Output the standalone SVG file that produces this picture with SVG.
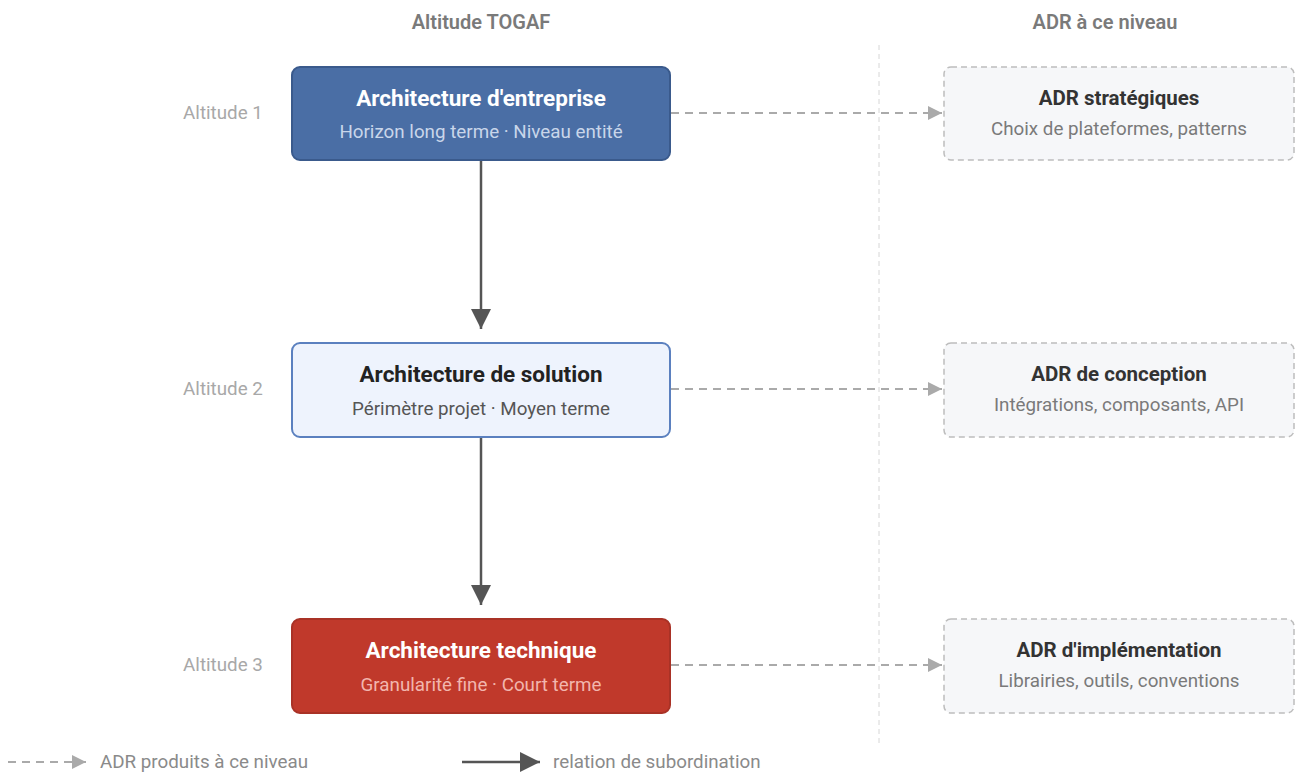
<svg xmlns="http://www.w3.org/2000/svg" width="1295" height="772" viewBox="0 0 1295 772">
<defs>
<style>
text{font-family:Roboto,"Liberation Sans",sans-serif;}
.hdr{font-size:20px;font-weight:600;fill:#7a7a7a;text-anchor:middle;}
.alt{font-size:18.8px;fill:#a8a8a8;text-anchor:middle;}
.t{font-size:22.5px;font-weight:700;text-anchor:middle;}
.s{font-size:18.8px;text-anchor:middle;}
.adr{fill:#f6f7f9;stroke:#bdbdbd;stroke-width:1.5;stroke-dasharray:6 4;}
.adrt{font-size:20.5px;font-weight:700;fill:#333;text-anchor:middle;}
.adrs{font-size:18.8px;fill:#7a7a7a;text-anchor:middle;}
.dash{stroke:#aaaaaa;stroke-width:2;stroke-dasharray:8 6;fill:none;}
.solid{stroke:#555;stroke-width:2.5;fill:none;}
.leg{font-size:18.8px;fill:#8a8a8a;}
</style>
<marker id="ag" viewBox="0 0 10 10" refX="10" refY="5" markerWidth="18" markerHeight="14" markerUnits="userSpaceOnUse" orient="auto">
<path d="M0,0 L10,5 L0,10 z" fill="#aaaaaa"/>
</marker>
<marker id="ad" viewBox="0 0 10 10" refX="10" refY="5" markerWidth="20" markerHeight="26" markerUnits="userSpaceOnUse" orient="auto">
<path d="M0,0 L10,5 L0,10 z" fill="#555"/>
</marker>
</defs>
<rect width="1295" height="772" fill="#ffffff"/>
<text class="hdr" x="481" y="29">Altitude TOGAF</text>
<text class="hdr" x="1105" y="29">ADR à ce niveau</text>
<line x1="879" y1="45" x2="879" y2="745" stroke="#d6d6d6" stroke-width="1" stroke-dasharray="5 4"/>
<text class="alt" x="223" y="119">Altitude 1</text>
<text class="alt" x="223" y="395">Altitude 2</text>
<text class="alt" x="223" y="671">Altitude 3</text>
<g id="connectors">
<line class="dash" x1="671" y1="113" x2="942" y2="113" marker-end="url(#ag)"/>
<line class="dash" x1="671" y1="389" x2="942" y2="389" marker-end="url(#ag)"/>
<line class="dash" x1="671" y1="665" x2="942" y2="665" marker-end="url(#ag)"/>
<line class="solid" x1="481" y1="161" x2="481" y2="329" marker-end="url(#ad)"/>
<line class="solid" x1="481" y1="438" x2="481" y2="605" marker-end="url(#ad)"/>
</g>
<g id="ea">
<rect x="292" y="67" width="378" height="93" rx="8" fill="#4a6ea5" stroke="#3a5a8c" stroke-width="2"/>
<text class="t" x="481" y="106" fill="#ffffff">Architecture d'entreprise</text>
<text class="s" x="481" y="138" fill="#c9d6ea">Horizon long terme · Niveau entité</text>
</g>
<g id="sa">
<rect x="292" y="343" width="378" height="94" rx="8" fill="#eef3fd" stroke="#5b80bf" stroke-width="2"/>
<text class="t" x="481" y="382" fill="#222">Architecture de solution</text>
<text class="s" x="481" y="415" fill="#555">Périmètre projet · Moyen terme</text>
</g>
<g id="ta">
<rect x="292" y="619" width="378" height="94" rx="8" fill="#c0392b" stroke="#a93226" stroke-width="2"/>
<text class="t" x="481" y="658" fill="#ffffff">Architecture technique</text>
<text class="s" x="481" y="691" fill="#f2b6ae">Granularité fine · Court terme</text>
</g>
<g id="adr1">
<rect class="adr" x="944" y="67" width="350" height="93" rx="7"/>
<text class="adrt" x="1119" y="105">ADR stratégiques</text>
<text class="adrs" x="1119" y="135">Choix de plateformes, patterns</text>
</g>
<g id="adr2">
<rect class="adr" x="944" y="343" width="350" height="94" rx="7"/>
<text class="adrt" x="1119" y="381">ADR de conception</text>
<text class="adrs" x="1119" y="411">Intégrations, composants, API</text>
</g>
<g id="adr3">
<rect class="adr" x="944" y="619" width="350" height="94" rx="7"/>
<text class="adrt" x="1119" y="657">ADR d'implémentation</text>
<text class="adrs" x="1119" y="687">Librairies, outils, conventions</text>
</g>
<g id="legend">
<line class="dash" x1="8" y1="762" x2="86" y2="762" marker-end="url(#ag)" stroke-dasharray="6 5"/>
<text class="leg" x="100" y="768">ADR produits à ce niveau</text>
<line class="solid" x1="462" y1="762" x2="540" y2="762" marker-end="url(#ad)" stroke-width="3"/>
<text class="leg" x="553" y="768">relation de subordination</text>
</g>
</svg>
